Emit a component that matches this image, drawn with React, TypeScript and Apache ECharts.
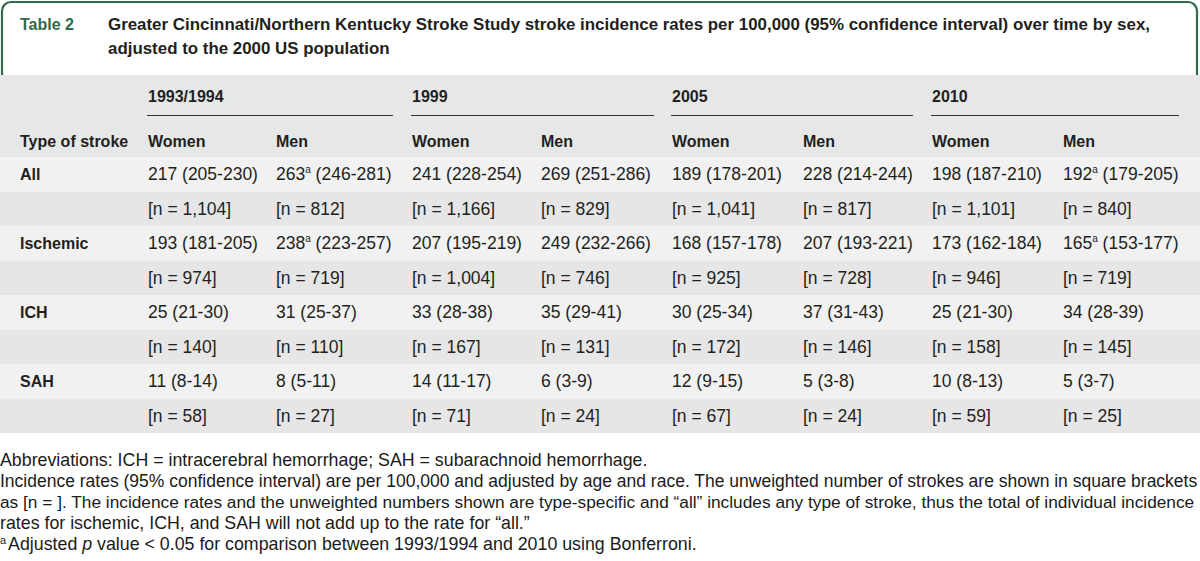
import React, { useEffect, useRef } from "react";
import * as echarts from "echarts";

const tableLabel = "Table 2";
const titleLines = [
  "Greater Cincinnati/Northern Kentucky Stroke Study stroke incidence rates per 100,000 (95% confidence interval) over time by sex,",
  "adjusted to the 2000 US population",
];
const years = ["1993/1994", "1999", "2005", "2010"];
const sexes = ["Women", "Men"];
const stubHeader = "Type of stroke";
const strokeTypes = ["All", "Ischemic", "ICH", "SAH"];

// rate, low CI, high CI, n, significance flag — order: 1993 W, 1993 M, 1999 W, 1999 M, 2005 W, 2005 M, 2010 W, 2010 M
const allRate = [217, 263, 241, 269, 189, 228, 198, 192];
const allLo = [205, 246, 228, 251, 178, 214, 187, 179];
const allHi = [230, 281, 254, 286, 201, 244, 210, 205];
const allN = ["1,104", "812", "1,166", "829", "1,041", "817", "1,101", "840"];
const allSig = [false, true, false, false, false, false, false, true];

const ischRate = [193, 238, 207, 249, 168, 207, 173, 165];
const ischLo = [181, 223, 195, 232, 157, 193, 162, 153];
const ischHi = [205, 257, 219, 266, 178, 221, 184, 177];
const ischN = ["974", "719", "1,004", "746", "925", "728", "946", "719"];
const ischSig = [false, true, false, false, false, false, false, true];

const ichRate = [25, 31, 33, 35, 30, 37, 25, 34];
const ichLo = [21, 25, 28, 29, 25, 31, 21, 28];
const ichHi = [30, 37, 38, 41, 34, 43, 30, 39];
const ichN = ["140", "110", "167", "131", "172", "146", "158", "145"];
const ichSig = [false, false, false, false, false, false, false, false];

const sahRate = [11, 8, 14, 6, 12, 5, 10, 5];
const sahLo = [8, 5, 11, 3, 9, 3, 8, 3];
const sahHi = [14, 11, 17, 9, 15, 8, 13, 7];
const sahN = ["58", "27", "71", "24", "67", "24", "59", "25"];
const sahSig = [false, false, false, false, false, false, false, false];

const footnotes = [
  "Abbreviations: ICH = intracerebral hemorrhage; SAH = subarachnoid hemorrhage.",
  "Incidence rates (95% confidence interval) are per 100,000 and adjusted by age and race. The unweighted number of strokes are shown in square brackets",
  "as [n = ]. The incidence rates and the unweighted numbers shown are type-specific and \u201call\u201d includes any type of stroke, thus the total of individual incidence",
  "rates for ischemic, ICH, and SAH will not add up to the rate for \u201call.\u201d",
];
const sigNotePre = "Adjusted ";
const sigNoteItalic = "p";
const sigNotePost = " value < 0.05 for comparison between 1993/1994 and 2010 using Bonferroni.";

const GREEN = "#2f6a4c";
const TEXT = "#231f20";
const FONT = "'Liberation Sans', Arial, sans-serif";

function App() {
  const ref = useRef<HTMLDivElement>(null);
  useEffect(() => {
    if (!ref.current) return;
    const chart = echarts.init(ref.current, null, { renderer: "svg" });

    const colX = [148, 276, 412, 541, 672, 803, 932, 1063];
    const stubX = 20;
    const headTop = 75;
    const rowTop = 157;
    const rowH = 34.5;
    const fs = 17.5;
    const hfs = 16;
    const noteSizes = [17.8, 17.5, 17.3, 17.8];
    const lastSize = 17.8;

    const groups = [
      { name: strokeTypes[0], rate: allRate, lo: allLo, hi: allHi, n: allN, sig: allSig },
      { name: strokeTypes[1], rate: ischRate, lo: ischLo, hi: ischHi, n: ischN, sig: ischSig },
      { name: strokeTypes[2], rate: ichRate, lo: ichLo, hi: ichHi, n: ichN, sig: ichSig },
      { name: strokeTypes[3], rate: sahRate, lo: sahLo, hi: sahHi, n: sahN, sig: sahSig },
    ];

    const els: any[] = [];
    // header box with green border
    els.push({
      type: "rect",
      shape: { x: 2, y: 2, width: 1195, height: 80, r: [9, 9, 0, 0] },
      style: { fill: "#fff", stroke: GREEN, lineWidth: 2.2 },
    });
    els.push({
      type: "text",
      x: 20,
      y: 24,
      style: { text: tableLabel, font: `bold 16px ${FONT}`, fill: GREEN, verticalAlign: "middle" },
    });
    titleLines.forEach((t, i) => {
      els.push({
        type: "text",
        x: 108,
        y: 24 + i * 24,
        style: { text: t, font: `bold 16.9px ${FONT}`, fill: TEXT, verticalAlign: "middle" },
      });
    });
    // gray table background
    els.push({ type: "rect", shape: { x: 0, y: headTop, width: 1200, height: rowTop - headTop }, style: { fill: "#e6e7e7" } });
    for (let r = 0; r < 8; r++) {
      els.push({
        type: "rect",
        shape: { x: 0, y: rowTop + r * rowH, width: 1200, height: rowH },
        style: { fill: r % 2 === 0 ? "#f1f1f1" : "#e6e6e6" },
      });
    }
    // year headers + underlines
    const ends = [393, 654, 913, 1179];
    years.forEach((y, i) => {
      els.push({
        type: "text",
        x: colX[i * 2],
        y: 96,
        style: { text: y, font: `bold ${hfs}px ${FONT}`, fill: TEXT, verticalAlign: "middle" },
      });
      els.push({
        type: "line",
        shape: { x1: colX[i * 2] - 1, y1: 115.5, x2: ends[i], y2: 115.5 },
        style: { stroke: "#333", lineWidth: 1 },
      });
      sexes.forEach((s, j) => {
        els.push({
          type: "text",
          x: colX[i * 2 + j],
          y: 141,
          style: { text: s, font: `bold ${hfs}px ${FONT}`, fill: TEXT, verticalAlign: "middle" },
        });
      });
    });
    els.push({
      type: "text",
      x: stubX,
      y: 141,
      style: { text: stubHeader, font: `bold ${hfs}px ${FONT}`, fill: TEXT, verticalAlign: "middle" },
    });
    // body
    groups.forEach((g, gi) => {
      const yRate = rowTop + gi * 2 * rowH + rowH / 2;
      const yN = yRate + rowH;
      els.push({
        type: "text",
        x: stubX,
        y: yRate,
        style: { text: g.name, font: `bold ${hfs}px ${FONT}`, fill: TEXT, verticalAlign: "middle" },
      });
      g.rate.forEach((v, c) => {
        const txt = g.sig[c]
          ? `${v}{sup|a} (${g.lo[c]}-${g.hi[c]})`
          : `${v} (${g.lo[c]}-${g.hi[c]})`;
        els.push({
          type: "text",
          x: colX[c],
          y: yRate,
          style: {
            text: txt,
            font: `${fs}px ${FONT}`,
            fill: TEXT,
            verticalAlign: "middle",
            rich: { sup: { fontSize: 10, fontFamily: FONT, fill: TEXT, padding: [0, 0, 9, 0] } },
          },
        });
        els.push({
          type: "text",
          x: colX[c],
          y: yN,
          style: { text: `[n = ${g.n[c]}]`, font: `${fs}px ${FONT}`, fill: TEXT, verticalAlign: "middle" },
        });
      });
    });
    // footnotes
    footnotes.forEach((t, i) => {
      els.push({
        type: "text",
        x: 0,
        y: 460 + i * 21,
        style: { text: t, font: `${noteSizes[i]}px ${FONT}`, fill: "#1a1a1a", verticalAlign: "middle" },
      });
    });
    els.push({
      type: "text",
      x: 0,
      y: 544,
      style: {
        text: `{sup|a}${sigNotePre}{i|${sigNoteItalic}}${sigNotePost}`,
        font: `${lastSize}px ${FONT}`,
        fill: "#1a1a1a",
        verticalAlign: "middle",
        rich: {
          sup: { fontSize: 11, fontFamily: FONT, fill: "#1a1a1a", padding: [0, 2, 9, 0] },
          i: { fontStyle: "italic", fontSize: lastSize, fontFamily: FONT, fill: "#1a1a1a" },
        },
      },
    });

    chart.setOption({ animation: false, backgroundColor: "#fff", graphic: { elements: els } });
    return () => chart.dispose();
  }, []);
  return (
    <div
      ref={ref}
      style={{ position: "absolute", left: 0, top: 0, width: 1200, height: 561 }}
    />
  );
}

export default App;
